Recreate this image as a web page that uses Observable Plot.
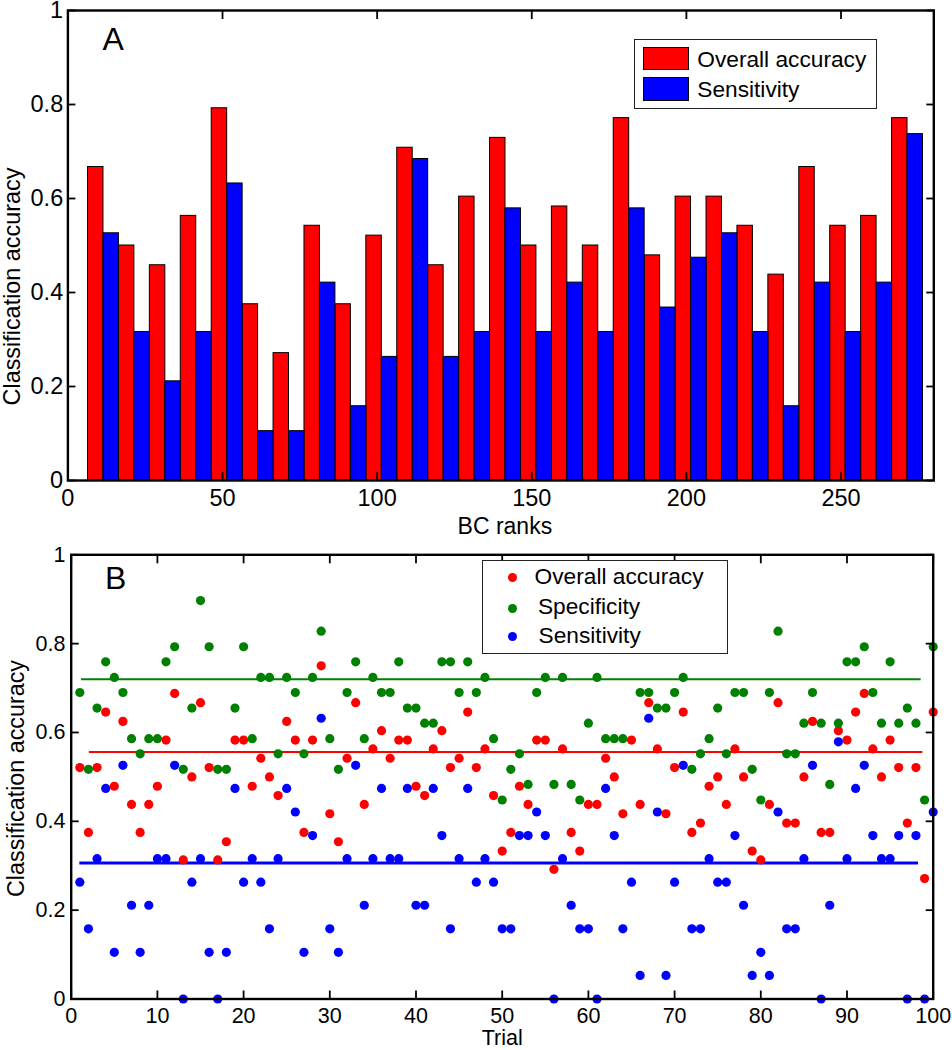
<!DOCTYPE html>
<html>
<head>
<meta charset="utf-8">
<script src="https://cdn.jsdelivr.net/npm/d3@7"></script>
<script src="https://cdn.jsdelivr.net/npm/@observablehq/plot@0.6"></script>
<style>
html, body { margin: 0; padding: 0; background: #fff; }
#wrap { position: relative; width: 952px; height: 1050px; font-family: "Liberation Sans", Arial, sans-serif; color: #000; overflow: hidden; }
#wrap svg { display: block; }
.legend { position: absolute; background: #fff; border: 1px solid #222; box-sizing: border-box; }
.legend .txt { position: absolute; white-space: nowrap; height: 30px; line-height: 30px; font-size: 22.7px; }
.legend .sw { position: absolute; box-sizing: border-box; border: 1px solid #000; }
.legend .mk { position: absolute; border-radius: 50%; }
</style>
</head>
<body>
<div id="wrap">
  <div id="panelA"></div>
  <div id="panelB"></div>
</div>
<script>
// ---------------- Panel A data ----------------
const rankCenters = [11.5, 21.5, 31.5, 41.5, 51.5, 61.5, 71.5, 81.5, 91.5, 101.5, 111.5, 121.5, 131.5, 141.5,
  151.5, 161.5, 171.5, 181.5, 191.5, 201.5, 211.5, 221.5, 231.5, 241.5, 251.5, 261.5, 271.5];
const overallA = [0.667, 0.5, 0.458, 0.563, 0.792, 0.375, 0.271, 0.542, 0.375, 0.521, 0.708, 0.458, 0.604, 0.729,
  0.5, 0.583, 0.5, 0.771, 0.479, 0.604, 0.604, 0.542, 0.438, 0.667, 0.542, 0.563, 0.771];
const sensitivityA = [0.526, 0.316, 0.211, 0.316, 0.632, 0.105, 0.105, 0.421, 0.158, 0.263, 0.684, 0.263, 0.316, 0.579,
  0.316, 0.421, 0.316, 0.579, 0.368, 0.474, 0.526, 0.316, 0.158, 0.421, 0.316, 0.421, 0.737];
const xTicksA = [0, 50, 100, 150, 200, 250];
const yTicks = [0, 0.2, 0.4, 0.6, 0.8, 1];
const legendA = ["Overall accuracy", "Sensitivity"];

// ---------------- Panel B data (trials 1..100) ----------------
const overallB = [
  0.521, 0.375, 0.521, 0.646, 0.479, 0.625, 0.438, 0.375, 0.438, 0.479,
  0.583, 0.688, 0.313, 0.5, 0.667, 0.521, 0.313, 0.354, 0.583, 0.583,
  0.479, 0.542, 0.5, 0.458, 0.625, 0.583, 0.375, 0.583, 0.75, 0.417,
  0.354, 0.542, 0.667, 0.438, 0.563, 0.604, 0.542, 0.583, 0.583, 0.479,
  0.458, 0.563, 0.604, 0.521, 0.542, 0.646, 0.521, 0.563, 0.458, 0.333,
  0.375, 0.479, 0.438, 0.583, 0.583, 0.292, 0.563, 0.375, 0.333, 0.438,
  0.438, 0.542, 0.5, 0.417, 0.583, 0.438, 0.667, 0.563, 0.417, 0.521,
  0.646, 0.375, 0.396, 0.479, 0.5, 0.438, 0.563, 0.5, 0.333, 0.313,
  0.438, 0.667, 0.396, 0.396, 0.5, 0.625, 0.375, 0.375, 0.604, 0.583,
  0.646, 0.688, 0.563, 0.5, 0.583, 0.521, 0.396, 0.521, 0.271, 0.646];
const specificityB = [
  0.690, 0.517, 0.655, 0.759, 0.724, 0.690, 0.586, 0.552, 0.586, 0.586,
  0.759, 0.793, 0.517, 0.655, 0.897, 0.793, 0.517, 0.517, 0.655, 0.793,
  0.586, 0.724, 0.724, 0.552, 0.724, 0.690, 0.552, 0.724, 0.828, 0.586,
  0.517, 0.690, 0.759, 0.586, 0.724, 0.690, 0.690, 0.759, 0.655, 0.655,
  0.621, 0.621, 0.759, 0.759, 0.690, 0.759, 0.690, 0.724, 0.586, 0.448,
  0.517, 0.552, 0.483, 0.690, 0.724, 0.483, 0.724, 0.483, 0.448, 0.621,
  0.724, 0.586, 0.586, 0.586, 0.793, 0.690, 0.690, 0.655, 0.655, 0.690,
  0.724, 0.517, 0.552, 0.586, 0.655, 0.552, 0.690, 0.690, 0.517, 0.448,
  0.690, 0.828, 0.552, 0.552, 0.621, 0.690, 0.621, 0.483, 0.621, 0.759,
  0.759, 0.793, 0.690, 0.621, 0.759, 0.621, 0.655, 0.621, 0.448, 0.793];
const sensitivityB = [
  0.263, 0.158, 0.316, 0.474, 0.105, 0.526, 0.211, 0.105, 0.211, 0.316,
  0.316, 0.526, 0, 0.263, 0.316, 0.105, 0, 0.105, 0.474, 0.263,
  0.316, 0.263, 0.158, 0.316, 0.474, 0.421, 0.105, 0.368, 0.632, 0.158,
  0.105, 0.316, 0.526, 0.211, 0.316, 0.474, 0.316, 0.316, 0.474, 0.211,
  0.211, 0.474, 0.368, 0.158, 0.316, 0.474, 0.263, 0.316, 0.263, 0.158,
  0.158, 0.368, 0.368, 0.421, 0.368, 0, 0.316, 0.211, 0.158, 0.158,
  0, 0.474, 0.368, 0.158, 0.263, 0.053, 0.632, 0.421, 0.053, 0.263,
  0.526, 0.158, 0.158, 0.316, 0.263, 0.263, 0.368, 0.211, 0.053, 0.105,
  0.053, 0.421, 0.158, 0.158, 0.316, 0.526, 0, 0.211, 0.579, 0.316,
  0.474, 0.526, 0.368, 0.316, 0.316, 0.368, 0, 0.368, 0, 0.421];
// horizontal reference lines: [overall, specificity, sensitivity]
const lineValues = [0.556, 0.72, 0.306];
const lineStart = [2.1, 1.2, 1.0];
const lineEnd = [98.8, 98.6, 98.3];
const xTicksB = [0, 10, 20, 30, 40, 50, 60, 70, 80, 90, 100];
const legendB = ["Overall accuracy", "Specificity", "Sensitivity"];

// ---------------- styles ----------------
const RED = "#ff0000", GREEN = "#008000", BLUE = "#0000ff";
const FONT = '"Liberation Sans", Arial, sans-serif';
const barHalf = 5;
const fmt = d => String(d);

// ---------------- Panel A ----------------
const groups = rankCenters.map((c, i) => ({c, overall: overallA[i], sens: sensitivityA[i]}));
const plotA = Plot.plot({
  width: 952, height: 535,
  marginLeft: 67.4, marginRight: 18.7, marginTop: 10, marginBottom: 55,
  style: {fontFamily: FONT, fontSize: "23.5px", color: "#000", background: "#fff", overflow: "visible"},
  x: {domain: [0, 280]},
  y: {domain: [0, 1]},
  marks: [
    Plot.rectY(groups, {x1: d => d.c - barHalf, x2: d => d.c, y1: 0, y2: "overall", fill: RED, stroke: "#000", strokeWidth: 1}),
    Plot.rectY(groups, {x1: d => d.c, x2: d => d.c + barHalf, y1: 0, y2: "sens", fill: BLUE, stroke: "#000", strokeWidth: 1}),
    Plot.axisX({ticks: xTicksA, anchor: "bottom", tickSize: -8, tickPadding: 16.8, tickFormat: fmt, strokeWidth: 1.8, label: null}),
    Plot.axisX({ticks: xTicksA, anchor: "top", tickSize: -8, tickFormat: () => "", strokeWidth: 1.8, label: null}),
    Plot.axisY({ticks: yTicks, anchor: "left", tickSize: -8, tickPadding: 12.7, tickFormat: fmt, strokeWidth: 1.8, label: null}),
    Plot.axisY({ticks: yTicks, anchor: "right", tickSize: -8, tickFormat: () => "", strokeWidth: 1.8, label: null}),
    Plot.frame({stroke: "#000", strokeWidth: 2.4}),
    Plot.text(["A"], {frameAnchor: "top-left", textAnchor: "start", lineAnchor: "middle", dx: 34.6, dy: 29.5, fontSize: 32}),
    Plot.text(["BC ranks"], {frameAnchor: "bottom", textAnchor: "middle", lineAnchor: "middle", dx: 4, dy: 46, fontSize: 23}),
    Plot.text(["Classification accuracy"], {frameAnchor: "left", textAnchor: "middle", rotate: -90, lineAnchor: "middle", dx: -55.4, dy: 41, fontSize: 23.4})
  ]
});
document.getElementById("panelA").appendChild(plotA);

// ---------------- Panel B ----------------
const series = [
  {values: overallB, color: RED},
  {values: specificityB, color: GREEN},
  {values: sensitivityB, color: BLUE}
];
const lineWidths = [2, 2, 3];
const plotB = Plot.plot({
  width: 952, height: 515,
  marginLeft: 70.7, marginRight: 19.3, marginTop: 19.3, marginBottom: 51.5,
  style: {fontFamily: FONT, fontSize: "21.5px", color: "#000", background: "#fff", overflow: "visible"},
  x: {domain: [0, 100]},
  y: {domain: [0, 1]},
  marks: [
    ...series.map((s, k) => Plot.ruleY([lineValues[k]], {y: d => d, x1: lineStart[k], x2: lineEnd[k], stroke: s.color, strokeWidth: lineWidths[k]})),
    ...series.map(s => Plot.dot(s.values.map((v, i) => ({trial: i + 1, v})), {x: "trial", y: "v", r: 4.6, fill: s.color})),
    Plot.axisX({ticks: xTicksB, anchor: "bottom", tickSize: -8, tickPadding: 16.8, tickFormat: fmt, strokeWidth: 1.8, label: null}),
    Plot.axisX({ticks: xTicksB, anchor: "top", tickSize: -8, tickFormat: () => "", strokeWidth: 1.8, label: null}),
    Plot.axisY({ticks: yTicks, anchor: "left", tickSize: -8, tickPadding: 13.7, tickFormat: fmt, strokeWidth: 1.8, label: null}),
    Plot.axisY({ticks: yTicks, anchor: "right", tickSize: -8, tickFormat: () => "", strokeWidth: 1.8, label: null}),
    Plot.frame({stroke: "#000", strokeWidth: 2.4}),
    Plot.text(["B"], {frameAnchor: "top-left", textAnchor: "start", lineAnchor: "middle", dx: 33.8, dy: 23.6, fontSize: 32}),
    Plot.text(["Trial"], {frameAnchor: "bottom", textAnchor: "middle", lineAnchor: "middle", dx: 0, dy: 39.5, fontSize: 21.5}),
    Plot.text(["Classification accuracy"], {frameAnchor: "left", textAnchor: "middle", rotate: -90, lineAnchor: "middle", dx: -54.5, dy: 1.6, fontSize: 23.3})
  ]
});
document.getElementById("panelB").appendChild(plotB);

// ---------------- Legends (HTML overlays) ----------------
const wrap = document.getElementById("wrap");
function box(left, top, w, h) {
  const d = document.createElement("div");
  d.className = "legend";
  Object.assign(d.style, {left: left + "px", top: top + "px", width: w + "px", height: h + "px"});
  wrap.appendChild(d);
  return d;
}
function add(parent, cls, styles, text) {
  const e = document.createElement("div");
  e.className = cls;
  Object.assign(e.style, styles);
  if (text) e.textContent = text;
  parent.appendChild(e);
  return e;
}
// Legend A
const la = box(634, 39.3, 243, 69.5);
const laColors = [RED, BLUE];
const laSwTop = [6.4, 37];
const laTxtTop = [3.4, 33.4];
legendA.forEach((lab, i) => {
  add(la, "sw", {left: "7.7px", top: laSwTop[i] + "px", width: "46px", height: "23.5px", background: laColors[i]});
  add(la, "txt", {left: "62.3px", top: laTxtTop[i] + "px"}, lab);
});
// Legend B
const lb = box(482.3, 560, 246, 94.3);
const lbColors = [RED, GREEN, BLUE];
const lbMkTop = [11.8, 42.8, 71.2];
const lbTxtLeft = [51.3, 54.7, 55.3];
const lbTxtTop = [-0.3, 30.2, 59.3];
legendB.forEach((lab, i) => {
  add(lb, "mk", {left: "24.9px", top: lbMkTop[i] + "px", width: "9.2px", height: "9.2px", background: lbColors[i]});
  add(lb, "txt", {left: lbTxtLeft[i] + "px", top: lbTxtTop[i] + "px"}, lab);
});
</script>
</body>
</html>
